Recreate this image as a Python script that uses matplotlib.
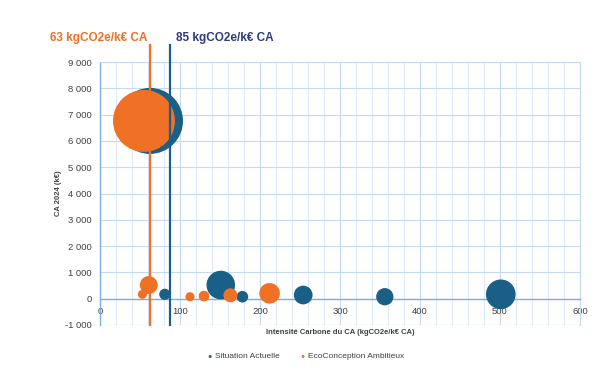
import matplotlib
matplotlib.use("Agg")
import matplotlib.pyplot as plt
import numpy as np

plt.rcParams['font.family'] = ['Liberation Sans', 'DejaVu Sans']

# Data: intensity (kgCO2e/k€ CA), CA 2024 (k€), emissions (tCO2e) -> bubble size
actuel_x = [62.5, 81, 151, 178, 254, 356, 501]
actuel_y = [6760, 167, 520, 75, 140, 75, 167]
actuel_size = [422, 12, 79, 13, 34, 29, 85]

eco_x = [55, 53, 61, 112.5, 130, 163, 212]
eco_y = [6760, 167, 521, 75, 100, 130, 205]
eco_size = [372, 8, 31, 8, 11, 19, 41]

avg_actuel = 87
avg_eco = 63
label_actuel = "85 kgCO2e/k€ CA"
label_eco = "63 kgCO2e/k€ CA"
series_names = ["Situation Actuelle", "EcoConception Ambitieux"]

blue = '#1a5f85'
orange = '#f07026'
navy = '#2e3c7c'

fig = plt.figure(figsize=(6.04, 3.66), dpi=100)
# plot area: x 100..580 px, y 62..325 px
ax = fig.add_axes([100/604, 1-325/366, 480/604, 263/366])
ax.set_xlim(0, 600)
ax.set_ylim(-1000, 9000)

max_size = max(actuel_size + eco_size)
s_max = (66 * 0.72) ** 2
def sz(v):
    return [x / max_size * s_max for x in v]

ax.scatter(actuel_x, actuel_y, s=sz(actuel_size), color=blue, zorder=4, linewidths=0)
ax.scatter(eco_x, eco_y, s=sz(eco_size), color=orange, zorder=5, linewidths=0)

# grid
ax.set_xticks(np.arange(0, 601, 100))
ax.set_xticks(np.arange(0, 601, 20), minor=True)
ax.set_yticks(np.arange(-1000, 9001, 1000))
ax.grid(True, which='major', axis='x', color='#c5daf0', lw=0.8, zorder=0)
ax.grid(True, which='minor', axis='x', color='#deeaf7', lw=0.8, zorder=0)
ax.grid(True, which='major', axis='y', color='#c5daf0', lw=0.8, zorder=0)
ax.set_axisbelow(True)

for side in ['top', 'right']:
    ax.spines[side].set_color('#c5daf0')
    ax.spines[side].set_linewidth(0.8)
ax.spines['left'].set_color('#7fafdc')
ax.spines['left'].set_linewidth(1.0)
ax.spines['bottom'].set_position(('data', 0))
ax.spines['bottom'].set_color('#7fafdc')
ax.spines['bottom'].set_linewidth(1.0)
ax.axhline(-1000, color='#c5daf0', lw=0.8, zorder=0)

ax.tick_params(axis='both', which='both', length=0, labelsize=6.8, colors='#404040')
ax.tick_params(axis='y', pad=6)
ax.tick_params(axis='x', pad=6)
ax.set_yticklabels([f"{v:,}".replace(",", " ") for v in range(-1000, 9001, 1000)])
ax.set_xticklabels([str(v) for v in range(0, 601, 100)])

# average lines
ax.plot([avg_eco, avg_eco], [-1000, 9650], color=orange, lw=1.6, zorder=6, clip_on=False)
ax.plot([avg_actuel, avg_actuel], [-1000, 9650], color=blue, lw=1.6, zorder=6, clip_on=False)
fig.text(147/604, 1-38/366, label_eco, color=orange, fontsize=8.5, fontweight='bold',
         ha='right', va='center')
fig.text(176/604, 1-38/366, label_actuel, color=navy, fontsize=8.5, fontweight='bold',
         ha='left', va='center')

# axis titles
fig.text(59/604, 1-193/366, "CA 2024 (k€)", rotation=90, fontsize=5.5, fontweight='bold',
         color='#404040', ha='center', va='center')
fig.text(340/604, 1-333/366, "Intensité Carbone du CA (kgCO2e/k€ CA)", fontsize=5.5,
         fontweight='bold', color='#404040', ha='center', va='center')

# legend
fig.text(210/604, 1-356/366, "●", color=blue, fontsize=5, ha='center', va='center')
fig.text(215/604, 1-356/366, series_names[0], color='#404040', fontsize=6, ha='left', va='center')
fig.text(303/604, 1-356/366, "●", color=orange, fontsize=5, ha='center', va='center')
fig.text(308/604, 1-356/366, series_names[1], color='#404040', fontsize=6, ha='left', va='center')

fig.savefig("out.png", dpi=100)
